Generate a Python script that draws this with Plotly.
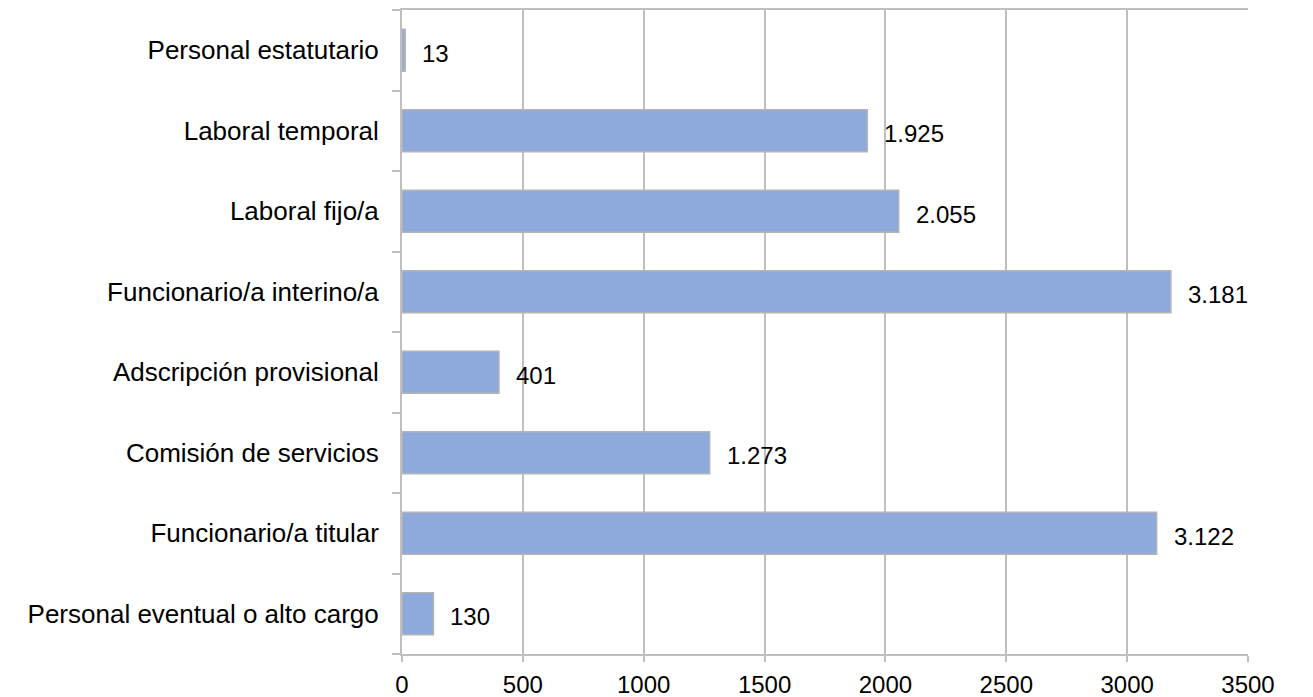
import plotly.graph_objects as go

categories = ["Personal eventual o alto cargo", "Funcionario/a titular", "Comisión de servicios",
              "Adscripción provisional", "Funcionario/a interino/a", "Laboral fijo/a",
              "Laboral temporal", "Personal estatutario"]
values = [130, 3122, 1273, 401, 3181, 2055, 1925, 13]
x_ticks = [0, 500, 1000, 1500, 2000, 2500, 3000, 3500]

def fmt(v):
    return f"{v:,}".replace(",", ".")

FONT = "Liberation Sans, Arial, sans-serif"
GRID = "#BFBFBF"

fig = go.Figure()
fig.add_trace(go.Bar(
    y=categories, x=values, orientation="h",
    marker=dict(color="#8EA9DB", line=dict(color="#B4B4B4", width=1.5)),
    width=0.52, hoverinfo="skip",
))
for c, v in zip(categories, values):
    fig.add_annotation(x=v, y=c, text=fmt(v), showarrow=False, xanchor="left",
                       xshift=15, yshift=-3, font=dict(family=FONT, size=24, color="black"))

fig.update_layout(
    width=1305, height=689,
    margin=dict(l=394, r=65, t=2, b=43),
    plot_bgcolor="white", paper_bgcolor="white",
    showlegend=False,
    font=dict(family=FONT, size=24, color="black"),
    xaxis=dict(range=[0, 3500], tickvals=x_ticks, ticktext=[str(t) for t in x_ticks],
               showgrid=True, gridcolor=GRID, gridwidth=2, zeroline=False,
               showline=True, linecolor=GRID, linewidth=2, mirror=True,
               ticks="outside", ticklen=6, tickcolor=GRID, tickwidth=2,
               automargin=False, tickfont=dict(size=24), ticklabelstandoff=2),
    yaxis=dict(type="category", categoryorder="array", categoryarray=categories,
               showgrid=False, showline=True, linecolor=GRID, linewidth=2,
               ticks="outside", tickson="boundaries", ticklen=8, tickcolor=GRID, tickwidth=2,
               automargin=False, tickfont=dict(size=26), ticklabelstandoff=16),
)
fig.write_html("out.html")
